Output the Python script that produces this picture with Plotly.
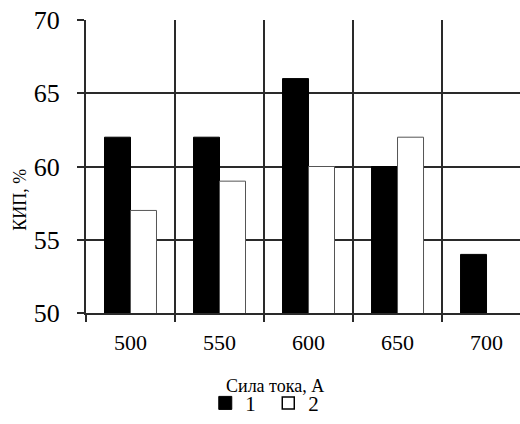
import plotly.graph_objects as go

categories = ["500", "550", "600", "650", "700"]
series1 = [62, 62, 66, 60, 54]
series2 = [57, 59, 60, 62, None]
names = ["1", "2"]
y_ticks = [50, 55, 60, 65, 70]

FONT = "Liberation Serif, Times New Roman, serif"
GRID = "#2a2a2a"

fig = go.Figure()
fig.add_trace(go.Bar(x=categories, y=series1, name=names[0], showlegend=False,
                     marker=dict(color="black", line=dict(color="black", width=1))))
fig.add_trace(go.Bar(x=categories, y=series2, name=names[1], showlegend=False,
                     marker=dict(color="white", line=dict(color="#555555", width=1))))
# legend entries with square markers
fig.add_trace(go.Scatter(x=[None], y=[None], mode="markers", name=names[0],
                         marker=dict(symbol="square", size=13, color="black",
                                     line=dict(color="black", width=1))))
fig.add_trace(go.Scatter(x=[None], y=[None], mode="markers", name=names[1],
                         marker=dict(symbol="square", size=12, color="white",
                                     line=dict(color="black", width=1.5))))

fig.update_layout(
    width=520, height=424,
    margin=dict(l=86, r=0, t=20, b=102),
    paper_bgcolor="white", plot_bgcolor="white",
    barmode="group", bargap=0.416, bargroupgap=0,
    font=dict(family=FONT, color="black"),
    showlegend=True,
    legend=dict(orientation="h", x=0.42, y=-0.308, xanchor="center", yanchor="middle",
                font=dict(size=21, family=FONT), itemwidth=30, tracegroupgap=0,
                entrywidth=18, entrywidthmode="pixels", itemsizing="trace"),
    xaxis=dict(type="category", range=[-0.5, 4.376], tickson="boundaries",
               showgrid=True, gridcolor=GRID, gridwidth=2, automargin=False,
               ticks="outside", ticklen=7, tickcolor=GRID, tickwidth=2,
               tickfont=dict(size=22, family=FONT), ticklabelstandoff=9,
               showline=True, linecolor=GRID, linewidth=2, zeroline=False),
    yaxis=dict(range=[50, 70], tickvals=y_ticks, automargin=False,
               showgrid=True, gridcolor=GRID, gridwidth=2,
               ticks="outside", ticklen=7, tickcolor=GRID, tickwidth=2,
               tickfont=dict(size=26, family=FONT), ticklabelstandoff=12,
               showline=True, linecolor=GRID, linewidth=2, zeroline=False),
    annotations=[
        dict(text="КИП, %", xref="paper", yref="paper", x=-0.152, y=0.387,
             textangle=-90, showarrow=False, font=dict(size=18, family=FONT),
             xanchor="center", yanchor="middle"),
        dict(text="Сила тока, А", xref="paper", yref="paper", x=0.435, y=-0.248,
             showarrow=False, font=dict(size=18, family=FONT),
             xanchor="center", yanchor="middle"),
    ],
)

css_js = (
    "var h=document.documentElement,b=document.body;"
    "h.style.margin='0';h.style.padding='0';h.style.overflow='hidden';"
    "b.style.margin='0';b.style.padding='0';b.style.overflow='hidden';"
)
fig.write_html("out.html", config={"displayModeBar": False}, post_script=css_js)
